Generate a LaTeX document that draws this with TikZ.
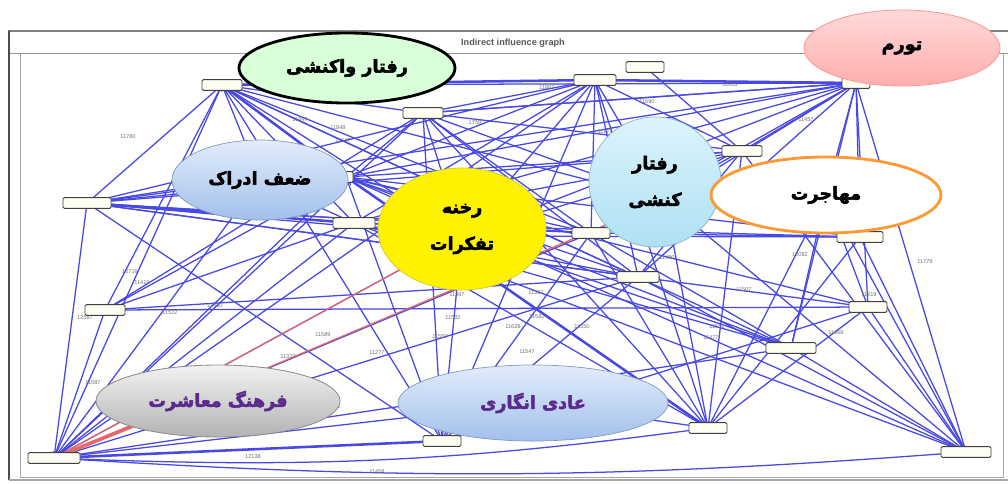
\documentclass[tikz,border=0pt]{standalone}
\usepackage{fontspec}
\usepackage{xcolor}
\usetikzlibrary{shapes.geometric, arrows, positioning, calc}

\newfontfamily\farsi[Script=Arabic, FakeBold=3]{DejaVu Sans}
\newfontfamily\guifont{Liberation Sans}
\TeXXeTstate=1
\newcommand{\fatxt}[1]{{\farsi\bfseries\beginR #1\endR}}

\definecolor{linkblue}{HTML}{4848E4}
\definecolor{hotred}{HTML}{E46A6A}
\definecolor{clusterpurple}{HTML}{5A2A8C}
\definecolor{paleblue}{HTML}{E2ECFA}
\definecolor{midblue}{HTML}{A2C0EC}
\definecolor{palesky}{HTML}{DDF4FC}
\definecolor{midsky}{HTML}{AEE0F4}

\begin{document}
\begin{tikzpicture}[x=0.025cm, y=-0.025cm,
    varbox/.style={draw=black!75, fill=yellow!5, line width=0.6pt, rounded corners=1pt,
        minimum height=0.27cm, inner sep=0pt},
    link/.style={linkblue, line width=0.9pt, ->, >=stealth},
    thicklink/.style={linkblue, line width=1.8pt, ->, >=stealth},
    hotlink/.style={hotred, line width=0.9pt, ->, >=stealth},
    numlbl/.style={font=\guifont\fontsize{4}{5}\selectfont, text=black!55, inner sep=0pt},
    cluster/.style={ellipse, inner sep=0pt, align=center, font=\fontsize{12.5}{14}\selectfont}]

\useasboundingbox (0,0) rectangle (1008,483);
\fill[white] (0,0) rectangle (1008,483);

% Window frame of the graph
\draw[black!35, line width=0.5pt] (20,53) rectangle (1003,477);
\draw[black!40, line width=0.5pt] (9,53) -- (1008,53);
\draw[black!50, line width=1.4pt] (8,31) -- (1008,31);
\draw[black!70, line width=1.2pt] (9,31) -- (9,480);
\draw[black!35, line width=0.8pt] (9,480) -- (1008,480);
\node[font=\guifont\bfseries\fontsize{6.5}{8}\selectfont, text=black!65] (title) at (513,43) {Indirect influence graph};

% Variables hidden under the cluster ellipses
\coordinate (hD) at (260,180);
\coordinate (hY) at (462,236);
\coordinate (hK) at (665,200);
\coordinate (hM) at (826,195);
\coordinate (hF) at (160,415);
\coordinate (hA) at (533,403);

% Variable boxes (positions only, placed before the links)
\foreach \name/\x/\y/\w in {v1/222/85/1.0, v2/423/113/1.0, v3/346/177/0.35, v4/87/203/1.2,
    v5/354/223/1.05, v6/595/80/1.05, v7/645/67/0.95, v8/856/83/0.7, v9/742/151/1.0,
    v10/591/233/0.95, v11/860/237/1.15, v12/638/277/1.05, v13/868/307/0.95,
    v14/791/348/1.25, v15/708/428/0.95, v16/966/452/1.25, v17/442/441/0.95,
    v18/54/458/1.3, v19/105/310/1.0}
    \coordinate (\name) at (\x,\y);

% Indirect influences
\foreach \a/\b in {v1/v18, v4/v18, v19/v18, v3/v18, v5/v18, v2/v18, v6/v18, v12/v18,
    v17/v18, hY/v18, hD/v18, hA/v18, v10/v18, v14/v18,
    v4/v1, v3/v1, v5/v1, v2/v1, v8/v1, v10/v1, v12/v1, v17/v1, hY/v1, hK/v1, v19/v1, hD/v1,
    v5/v4, v3/v4, v10/v4, v12/v4, hD/v4, v17/v4, hY/v4,
    v3/v19, v5/v19, v2/v19,
    v2/v6, v2/v9, v2/v8, v3/v2, v12/v2, v10/v2, hY/v2, v17/v2, hK/v2, v15/v2,
    v3/v6, v5/v6, v10/v6, v12/v6, v15/v6, v17/v6, v9/v6, hY/v6, hK/v6, v4/v6, v7/v9,
    v2/v8, v3/v8, v5/v8, v9/v8, v10/v8, v12/v8, v11/v8, v13/v8, v16/v8, hY/v8, hK/v8,
    v4/v8, hM/v8, v14/v8,
    v3/v9, v5/v9, v10/v9, v12/v9, v15/v9, v16/v9, v4/v9, hY/v9,
    v3/v10, v5/v10, v4/v10, v17/v10, v15/v10, v14/v10,
    v5/v11, v10/v11, v16/v11, v3/v11, hY/v11,
    v3/v12, v5/v12, v4/v12, v16/v12, v19/v12, v17/v12, v13/v12,
    v17/v13, v15/v13, v19/v13, v3/v13,
    v3/v14, v5/v14, v1/v14, hY/v14,
    v5/v15, hA/v15, v11/v15, hK/v15,
    v3/v16, v5/v16, v13/v16, hK/v16, v14/v16,
    v3/v17, hY/v17, v16/hM, v15/hM, v14/hM, v13/hM, v3/hD, v5/hD}
    \draw[link] (\a) -- (\b);

% Strongest influences
\foreach \a/\b in {v6/v1, v8/v6, v15/v3, v5/v4, v3/v1, v17/v18}
    \draw[thicklink] (\a) -- (\b);
\draw[link] (v15) to[bend left=5] (v18);
\draw[link] (v16) to[bend left=4] (v18);

% Red influences
\draw[hotlink] (hY) -- (v18);
\draw[hotlink] (hK) -- (v18);
\draw[hotred, line width=2.6pt] (v18) -- (hF);

% Influence values
\foreach \x/\y/\t [count=\i] in {128/137/11760, 300/120/11847, 338/128/11848, 343/141/11547,
    475/123/1759, 547/88/11867, 730/85/11613, 647/102/11690, 605/132/11177, 806/120/11457,
    130/272/12719, 142/283/11419, 85/318/12587, 170/313/11522, 215/306/11410, 288/357/11372,
    323/335/11589, 377/353/11277, 440/337/11550, 457/295/11367, 453/318/11532,
    513/327/11628, 527/352/11547, 333/407/11541, 93/383/11587, 253/457/12138,
    377/472/11458, 800/255/12082, 925/262/11779, 744/290/11507, 869/295/11819,
    836/333/11669, 717/327/11552, 711/338/11477, 536/293/11367, 537/317/11582,
    582/327/11550, 667/258/11480}
    \node[numlbl] (val\i) at (\x,\y) {\t};

% Variable boxes
\foreach \name/\x/\y/\w in {v1/222/85/1.0, v2/423/113/1.0, v3/346/177/0.35, v4/87/203/1.2,
    v5/354/223/1.05, v6/595/80/1.05, v7/645/67/0.95, v8/856/83/0.7, v9/742/151/1.0,
    v10/591/233/0.95, v11/860/237/1.15, v12/638/277/1.05, v13/868/307/0.95,
    v14/791/348/1.25, v15/708/428/0.95, v16/966/452/1.25, v17/442/441/0.95,
    v18/54/458/1.3, v19/105/310/1.0}
    \node[varbox, minimum width=\w cm] (box-\name) at (\name) {};

% Cluster ellipses
\node[cluster, fill=green!15, draw=black, line width=2pt,
    minimum width=5.4cm, minimum height=1.75cm] (reactive) at (347,68) {\fatxt{رفتار واکنشی}};
\node[cluster, top color=red!15, bottom color=red!32, draw=red!40, line width=0.6pt,
    minimum width=4.9cm, minimum height=1.9cm] (inflation) at (902,48) {\fatxt{تورم}};
\node[cluster, top color=paleblue, bottom color=midblue, draw=midblue!80!black, line width=0.5pt,
    minimum width=4.4cm, minimum height=2.0cm] (perception) at (260,180) {\fatxt{ضعف ادراک}};
\node[cluster, fill=yellow, draw=yellow!80!black, line width=0.5pt,
    minimum width=4.2cm, minimum height=3.05cm] (breach) at (462,229)
    {\fatxt{رخنه}\\[12pt]\fatxt{تفکرات}};
\node[cluster, top color=palesky, bottom color=midsky, draw=midsky!80!black, line width=0.5pt,
    minimum width=3.3cm, minimum height=3.25cm] (active) at (655,182)
    {\fatxt{رفتار}\\[12pt]\fatxt{کنشی}};
\node[cluster, fill=white, draw=orange!80, line width=2pt,
    minimum width=5.75cm, minimum height=1.9cm] (migration) at (826,195) {\fatxt{مهاجرت}};
\node[cluster, top color=black!5, bottom color=black!30, draw=black!45, line width=0.6pt,
    text=clusterpurple, minimum width=6.1cm, minimum height=1.8cm] (culture) at (218,401)
    {\fatxt{فرهنگ معاشرت}};
\node[cluster, top color=paleblue, bottom color=midblue, draw=midblue!80!black, line width=0.5pt,
    text=clusterpurple, minimum width=6.75cm, minimum height=1.9cm] (normal) at (533,403)
    {\fatxt{عادی انگاری}};
\end{tikzpicture}
\end{document}
